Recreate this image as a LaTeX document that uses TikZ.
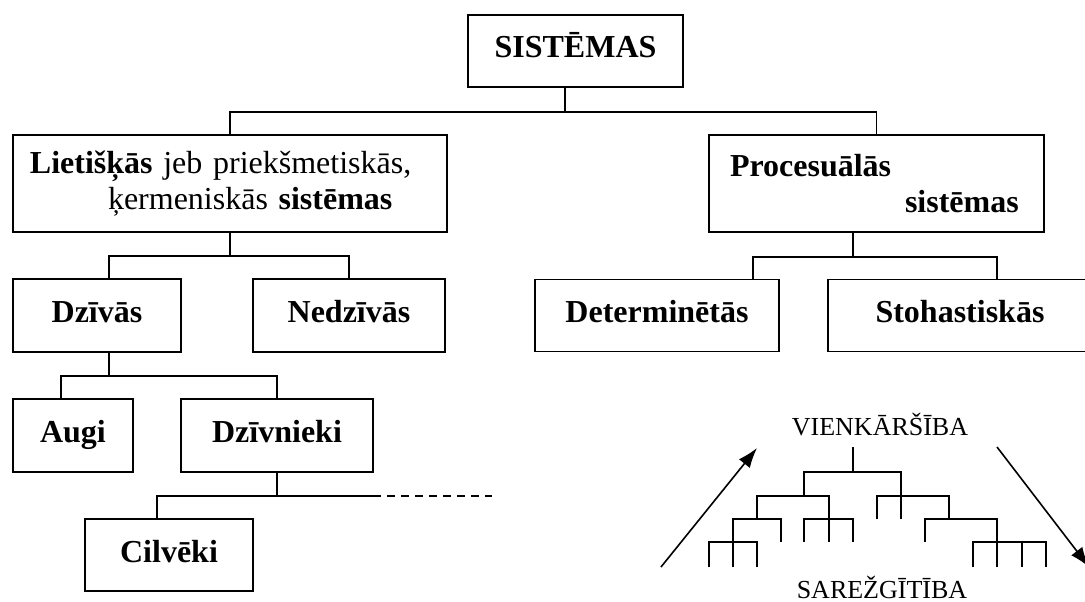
\documentclass[tikz,border=0pt]{standalone}
\usepackage{fontspec}
\setmainfont{Liberation Serif}
\usetikzlibrary{arrows.meta}

\tikzset{
  sysbox/.style={draw, line width=1.8pt, inner sep=0pt,
    font=\bfseries\fontsize{32}{36}\selectfont, text height=22pt, text depth=8pt},
  twoline/.style={draw, line width=1.8pt, inner sep=0pt,
    font=\fontsize{32}{36}\selectfont, align=left},
  link/.style={line width=1.8pt},
  twig/.style={line width=1.8pt},
  arr/.style={line width=1.6pt, -{Latex[length=20pt,width=14pt]}},
  lvl/.style={font=\fontsize{26}{30}\selectfont, inner sep=0pt, anchor=base}
}

\begin{document}
\begin{tikzpicture}[x=1pt,y=-1pt]
  \useasboundingbox (0,0) rectangle (1085,602);
  \clip (0,0) rectangle (1085,602);

  % boxes
  \node[sysbox, minimum width=215pt, minimum height=72pt] (sist) at (575.5,51) {SISTĒMAS};
  \node[twoline, minimum width=434pt, minimum height=97pt, text width=400pt] (liet) at (230,183.5)
    {\textbf{Lietišķās} jeb priekšmetiskās,\\\hspace*{78pt}ķermeniskās \textbf{sistēmas}};
  \node[twoline, minimum width=335pt, minimum height=97pt, text width=293pt] (proc) at (876.5,183.5)
    {\textbf{Procesuālās}\\\hspace*{175pt}\textbf{sistēmas}};
  \node[sysbox, minimum width=168pt, minimum height=73pt] (dziv) at (97,315.5) {Dzīvās};
  \node[sysbox, minimum width=192pt, minimum height=73pt] (nedz) at (349,315.5) {Nedzīvās};
  \node[sysbox, minimum width=244pt, minimum height=72pt] (det) at (657,315.5) {Determinētās};
  \node[sysbox, minimum width=264pt, minimum height=72pt] (stoh) at (960,315.5) {Stohastiskās};
  \node[sysbox, minimum width=120pt, minimum height=73pt] (augi) at (73,435.5) {Augi};
  \node[sysbox, minimum width=192pt, minimum height=73pt] (dzvn) at (277,435.5) {Dzīvnieki};
  \node[sysbox, minimum width=168pt, minimum height=72pt] (cilv) at (169,555) {Cilvēki};

  % connectors
  \draw[link] ([xshift=-10.5pt]sist.south) -- ++(0,24) coordinate (b0);
  \draw[link] (liet.north) |- (b0) -| (proc.north);
  \draw[link] (liet.south) -- ++(0,23) coordinate (b1);
  \draw[link] ([xshift=12pt]dziv.north) |- (b1) -| (nedz.north);
  \draw[link] ([xshift=-23.5pt]proc.south) -- ++(0,24) coordinate (b2);
  \draw[link] ([xshift=96pt]det.north) |- (b2) -| ([xshift=37pt]stoh.north);
  \draw[link] ([xshift=12pt]dziv.south) -- ++(0,23) coordinate (b3);
  \draw[link] ([xshift=-12pt]augi.north) |- (b3) -| (dzvn.north);
  \draw[link] (dzvn.south) -- ++(0,23) coordinate (b4);
  \draw[link] ([xshift=-12pt]cilv.north) |- (b4) -- ++(96,0) coordinate (b4e);
  \draw[link, dash pattern=on 8pt off 6pt] (b4e) -- ++(119,0);

  % simplicity / complexity tree
  \node[lvl] (simple) at (880,435) {VIENKĀRŠĪBA};
  \node[lvl] (complex) at (882,598) {SAREŽGĪTĪBA};
  \draw[twig] (853,447) -- (853,472);
  \draw[twig] (804,496) -- (804,472) -- (901,472) -- (901,519);
  \draw[twig] (757,519) -- (757,496) -- (829,496) -- (829,542);
  \draw[twig] (877,519) -- (877,496) -- (949,496) -- (949,519);
  \draw[twig] (733,567) -- (733,519) -- (781,519) -- (781,542);
  \draw[twig] (804,542) -- (804,519) -- (853,519) -- (853,542);
  \draw[twig] (925,542) -- (925,519) -- (997,519) -- (997,567);
  \draw[twig] (709,567) -- (709,542) -- (757,542) -- (757,567);
  \draw[twig] (973,567) -- (973,542) -- (1046,542) -- (1046,567);
  \draw[twig] (1022,542) -- (1022,567);

  \coordinate (a1) at (661,567);
  \coordinate (a2) at (757,448);
  \coordinate (a3) at (997,447);
  \coordinate (a4) at (1089,567);
  \draw[arr] (a1) -- (a2);
  \draw[arr] (a3) -- (a4);
\end{tikzpicture}
\end{document}
